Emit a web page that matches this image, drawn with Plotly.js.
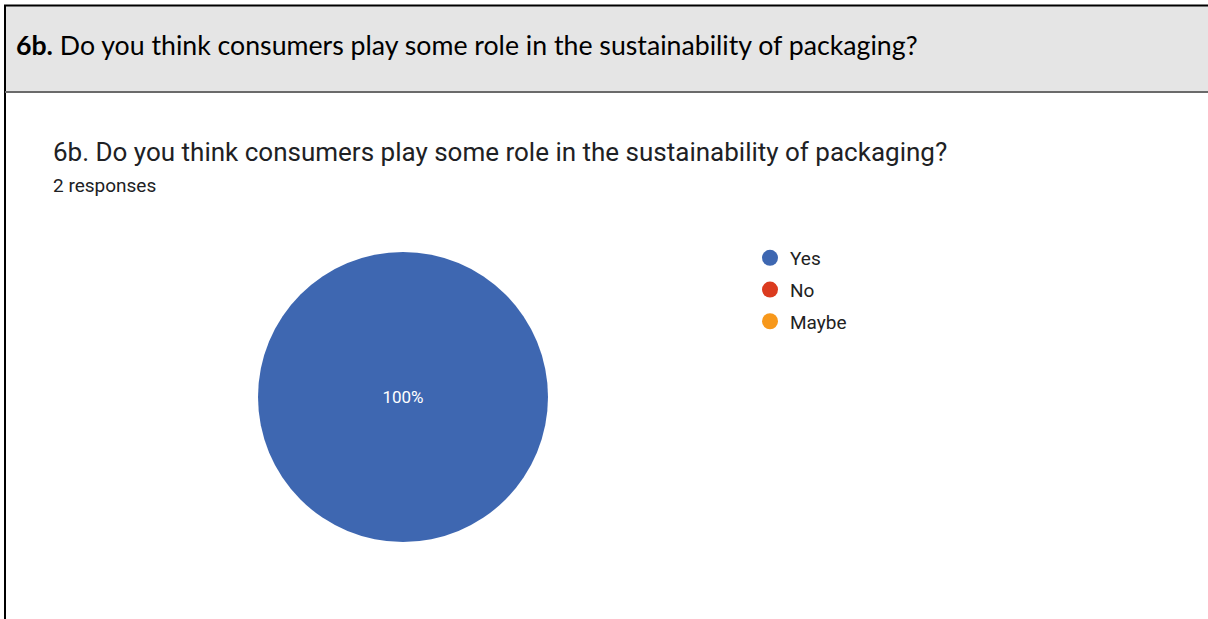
<!DOCTYPE html>
<html><head><meta charset="utf-8">
<script src="https://cdn.plot.ly/plotly-3.0.1.min.js"></script>
<style>html,body{margin:0;padding:0;background:#fff}#chart{width:1208px;height:619px}</style>
</head><body><div id="chart"></div>
<script>
const headerText = "<b>6b.</b> Do you think consumers play some role in the sustainability of packaging?";
const chartTitle = "6b. Do you think consumers play some role in the sustainability of packaging?";
const subtitle = "2 responses";
const labels = ["Yes", "No", "Maybe"];
const values = [2, 0, 0];
const colors = ["#3e67b1", "#db3b1f", "#f7981b"];

const W = 1208, H = 619;
const px = x => x / W, py = y => 1 - y / H;

const traces = [{
  type: "pie",
  labels: labels, values: values,
  marker: {colors: colors},
  sort: false, direction: "clockwise", rotation: 0,
  textinfo: "percent", texttemplate: "%{percent:.0%}",
  textposition: "inside", insidetextorientation: "horizontal",
  textfont: {family: "Roboto, Arial, sans-serif", size: 17, color: "#ffffff"},
  showlegend: false, hoverinfo: "label+percent",
  domain: {x: [px(258), px(548)], y: [py(544), py(250)]}
}];
labels.forEach((l, i) => traces.push({
  type: "scatter", mode: "markers", x: [null], y: [null], name: l,
  legendgroup: "g" + i,
  marker: {color: colors[i], size: 18, symbol: "circle"},
  showlegend: true, hoverinfo: "skip"
}));

const layout = {
  width: W, height: H,
  margin: {l: 0, r: 0, t: 0, b: 0},
  paper_bgcolor: "#ffffff", plot_bgcolor: "rgba(0,0,0,0)",
  xaxis: {visible: false, domain: [0.9, 0.95]},
  yaxis: {visible: false, domain: [0.05, 0.1]},
  showlegend: true,
  legend: {x: px(750), y: py(239), xanchor: "left", yanchor: "top",
    font: {family: "Roboto, Arial, sans-serif", size: 19, color: "#222222"},
    itemsizing: "trace", traceorder: "grouped", tracegroupgap: 4, bgcolor: "rgba(0,0,0,0)"},
  shapes: [
    {type: "rect", xref: "paper", yref: "paper", x0: px(5), x1: 1, y0: py(92), y1: py(6),
      fillcolor: "#e5e5e5", line: {width: 0}, layer: "below"},
    {type: "line", xref: "paper", yref: "paper", x0: px(4), x1: 1, y0: py(5.5), y1: py(5.5),
      line: {color: "#000000", width: 2}},
    {type: "line", xref: "paper", yref: "paper", x0: px(5), x1: px(5), y0: 0, y1: py(5),
      line: {color: "#000000", width: 2}},
    {type: "line", xref: "paper", yref: "paper", x0: px(5), x1: 1, y0: py(92), y1: py(92),
      line: {color: "#6a6a6a", width: 2}}
  ],
  annotations: [
    {xref: "paper", yref: "paper", x: px(14), y: py(45), xanchor: "left", yanchor: "middle",
      text: headerText, showarrow: false,
      font: {family: "Lato, 'Open Sans', sans-serif", size: 26.7, color: "#000000"}},
    {xref: "paper", yref: "paper", x: px(51), y: py(152), xanchor: "left", yanchor: "middle",
      text: chartTitle, showarrow: false,
      font: {family: "Roboto, Arial, sans-serif", size: 26, color: "#202124"}},
    {xref: "paper", yref: "paper", x: px(51), y: py(185), xanchor: "left", yanchor: "middle",
      text: subtitle, showarrow: false,
      font: {family: "Roboto, Arial, sans-serif", size: 19, color: "#202124"}}
  ]
};
Plotly.newPlot("chart", traces, layout, {displayModeBar: false, staticPlot: true});
</script></body></html>
